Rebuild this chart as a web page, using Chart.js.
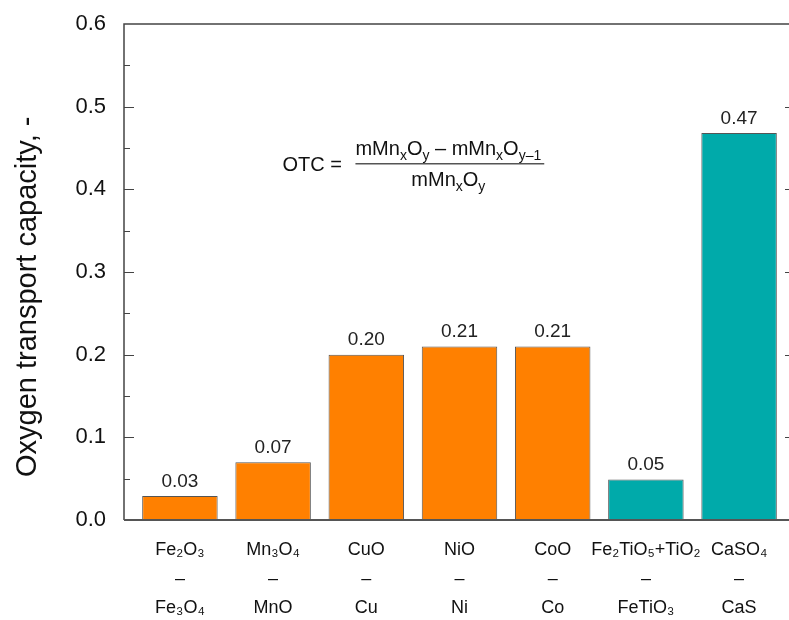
<!DOCTYPE html>
<html>
<head>
<meta charset="utf-8">
<script src="https://cdn.jsdelivr.net/npm/chart.js@4"></script>
<style>
  html, body { margin: 0; padding: 0; background: #fff; overflow: hidden; width: 789px; height: 620px; }
  #wrap { width: 800px; height: 620px; }
</style>
</head>
<body>
<div id="wrap"><canvas id="otcChart"></canvas></div>
<script>
// oxidized / reduced form of each oxygen carrier
const oxidized = ['Fe₂O₃', 'Mn₃O₄', 'CuO', 'NiO', 'CoO', 'Fe₂TiO₅+TiO₂', 'CaSO₄'];
const reduced = ['Fe₃O₄', 'MnO', 'Cu', 'Ni', 'Co', 'FeTiO₃', 'CaS'];
const otc = [0.029, 0.07, 0.2, 0.21, 0.21, 0.049, 0.468];
const yTicks = [0, 0.1, 0.2, 0.3, 0.4, 0.5, 0.6];
const yTitle = 'Oxygen transport capacity, -';

const FONT = '"Liberation Sans", Arial, sans-serif';
const ORANGE = '#ff8000';
const TEAL = '#00aaaa';

// frame + inward ticks + y title
const framePlugin = {
    id: 'frame',
    afterDatasetsDraw(chart) {
        const { ctx, chartArea: a, scales } = chart;
        ctx.save();
        ctx.strokeStyle = '#444';
        ctx.lineWidth = 1.5;
        ctx.beginPath();
        ctx.moveTo(a.left, a.bottom);
        ctx.lineTo(a.left, a.top);
        ctx.lineTo(a.right, a.top);
        ctx.lineTo(a.right, a.bottom);
        ctx.stroke();
        ctx.strokeStyle = '#555';
        ctx.lineWidth = 2;
        ctx.beginPath();
        ctx.moveTo(a.left, a.bottom);
        ctx.lineTo(a.right, a.bottom);
        ctx.stroke();
        ctx.lineWidth = 1;
        ctx.strokeStyle = '#444';
        for (let k = 1; k < 12; k++) {
            const len = k % 2 === 0 ? 10 : 6;
            const y = Math.round(scales.y.getPixelForValue(k * 0.05)) + 0.5;
            ctx.beginPath();
            ctx.moveTo(a.left, y); ctx.lineTo(a.left + len, y);
            ctx.moveTo(a.right, y); ctx.lineTo(a.right - len, y);
            ctx.stroke();
        }
        // axis title, a bit below centre like the original
        ctx.translate(28, scales.y.getPixelForValue(0.27));
        ctx.rotate(-Math.PI / 2);
        ctx.font = '29px ' + FONT;
        ctx.fillStyle = '#111';
        ctx.textAlign = 'center';
        ctx.textBaseline = 'middle';
        ctx.fillText(yTitle, 0, 0);
        ctx.restore();
    }
};

// value labels over bars
const valuePlugin = {
    id: 'values',
    afterDatasetsDraw(chart) {
        const { ctx } = chart;
        const meta = chart.getDatasetMeta(0);
        ctx.save();
        ctx.font = '19px ' + FONT;
        ctx.fillStyle = '#222';
        ctx.textAlign = 'center';
        ctx.textBaseline = 'bottom';
        meta.data.forEach((bar, i) => {
            ctx.fillText(otc[i].toFixed(2), bar.x, bar.y - 5);
        });
        ctx.restore();
    }
};

// draw text pieces, some of them subscript
function drawPieces(ctx, pieces, x, y) {
    pieces.forEach(p => {
        ctx.font = (p.sub ? '14px ' : '20px ') + FONT;
        ctx.fillText(p.t, x, y + (p.sub ? 5 : 0));
        x += ctx.measureText(p.t).width;
    });
    return x;
}
function piecesWidth(ctx, pieces) {
    let w = 0;
    pieces.forEach(p => {
        ctx.font = (p.sub ? '14px ' : '20px ') + FONT;
        w += ctx.measureText(p.t).width;
    });
    return w;
}

const formulaPlugin = {
    id: 'formula',
    afterDraw(chart) {
        const { ctx, scales } = chart;
        const num = [{ t: 'mMn' }, { t: 'x', sub: 1 }, { t: 'O' }, { t: 'y', sub: 1 },
            { t: ' – mMn' }, { t: 'x', sub: 1 }, { t: 'O' }, { t: 'y–1', sub: 1 }];
        const den = [{ t: 'mMn' }, { t: 'x', sub: 1 }, { t: 'O' }, { t: 'y', sub: 1 }];
        const x0 = scales.x.getPixelForValue(2.1);
        const yLine = scales.y.getPixelForValue(0.431);
        ctx.save();
        ctx.fillStyle = '#111';
        ctx.textBaseline = 'alphabetic';
        ctx.font = '20px ' + FONT;
        ctx.fillText('OTC =', x0, yLine + 7);
        const fx = x0 + ctx.measureText('OTC = ').width + 8;
        const nw = piecesWidth(ctx, num);
        drawPieces(ctx, num, fx, yLine - 9);
        const dw = piecesWidth(ctx, den);
        drawPieces(ctx, den, fx + (nw - dw) / 2, yLine + 22);
        ctx.strokeStyle = '#555';
        ctx.lineWidth = 1.5;
        ctx.beginPath();
        ctx.moveTo(fx, yLine); ctx.lineTo(fx + nw + 3, yLine);
        ctx.stroke();
        ctx.restore();
    }
};

const ctx = document.getElementById('otcChart').getContext('2d');
new Chart(ctx, {
    type: 'bar',
    data: {
        datasets: [{
            data: otc.map((v, i) => ({ x: i + 1, y: v })),
            backgroundColor: otc.map((v, i) => i < 5 ? ORANGE : TEAL),
            borderColor: '#555',
            borderWidth: 1,
            barPercentage: 0.81,
            categoryPercentage: 1
        }]
    },
    options: {
        responsive: true,
        maintainAspectRatio: false,
        animation: false,
        layout: { padding: { top: 24, right: 5, left: 0, bottom: 0 } },
        plugins: { legend: { display: false }, tooltip: { enabled: false } },
        scales: {
            x: {
                type: 'linear',
                min: 0.4,
                max: 7.6,
                offset: false,
                grid: { display: false },
                border: { display: false },
                afterBuildTicks: scale => { scale.ticks = oxidized.map((c, i) => ({ value: i + 1 })); },
                afterFit: scale => { scale.height = 100; },
                ticks: {
                    autoSkip: false,
                    maxRotation: 0,
                    padding: 8,
                    color: '#111',
                    font: { family: FONT, size: 18, lineHeight: 1.6 },
                    callback: v => [oxidized[v - 1], '–', reduced[v - 1]]
                }
            },
            y: {
                min: 0,
                max: 0.6,
                grid: { display: false },
                border: { display: false },
                afterBuildTicks: scale => { scale.ticks = yTicks.map(v => ({ value: v })); },
                afterFit: scale => { scale.width = 124; },
                ticks: {
                    padding: 10,
                    color: '#111',
                    font: { family: FONT, size: 22 },
                    callback: v => v.toFixed(1)
                }
            }
        }
    },
    plugins: [framePlugin, valuePlugin, formulaPlugin]
});
</script>
</body>
</html>
